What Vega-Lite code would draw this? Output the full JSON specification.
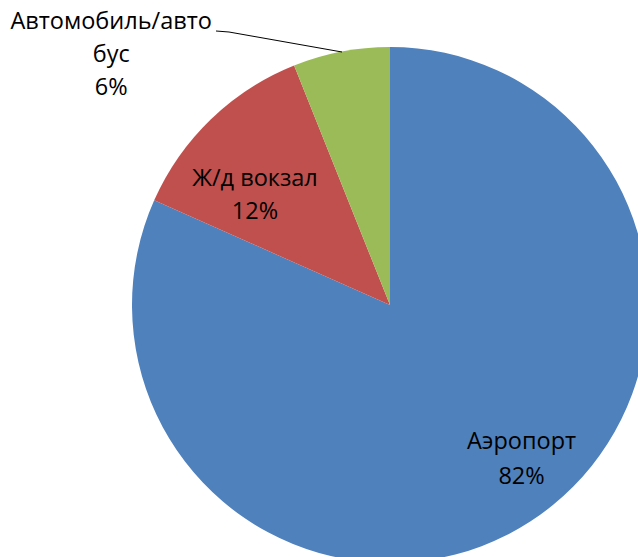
{
  "$schema": "https://vega.github.io/schema/vega-lite/v6.json",
  "width": 780,
  "height": 610,
  "autosize": {"type": "none"},
  "padding": 0,
  "background": "white",
  "config": {"view": {"stroke": null}, "text": {"font": "Open Sans"}},
  "data": {
    "values": [
      {"i": 1, "name": "Аэропорт", "value": 81.65, "label": "Аэропорт\n82%"},
      {"i": 2, "name": "Ж/д вокзал", "value": 12.29, "label": "Ж/д вокзал\n12%"},
      {"i": 3, "name": "Автомобиль/автобус", "value": 6.06, "label": "Автомобиль/авто\nбус\n6%"}
    ]
  },
  "encoding": {
    "theta": {"field": "value", "type": "quantitative", "stack": true},
    "order": {"field": "i", "type": "quantitative"}
  },
  "layer": [
    {
      "mark": {"type": "arc", "outerRadius": 258},
      "encoding": {
        "color": {
          "field": "name",
          "type": "nominal",
          "scale": {"domain": ["Аэропорт", "Ж/д вокзал", "Автомобиль/автобус"], "range": ["#4F81BD", "#C0504D", "#9BBB59"]},
          "legend": null
        }
      }
    },
    {
      "mark": {"type": "text", "fontSize": 23.5, "lineBreak": "\n", "lineHeight": 35, "baseline": "middle", "align": "center", "color": "black", "dx": 28, "dy": -22},
      "encoding": {"text": {"condition": {"test": "datum.i == 1", "field": "label"}, "value": ""}, "radius": {"value": 190}}
    },
    {
      "mark": {"type": "text", "fontSize": 23.5, "lineBreak": "\n", "lineHeight": 33, "baseline": "middle", "align": "center", "color": "black", "dx": -24, "dy": -11},
      "encoding": {"text": {"condition": {"test": "datum.i == 2", "field": "label"}, "value": ""}, "radius": {"value": 160}}
    },
    {
      "mark": {"type": "text", "fontSize": 23.5, "lineBreak": "\n", "lineHeight": 33, "baseline": "middle", "align": "center", "color": "black", "dx": -230, "dy": -30},
      "encoding": {"text": {"condition": {"test": "datum.i == 3", "field": "label"}, "value": ""}, "radius": {"value": 258}}
    },
    {
      "transform": [{"filter": "datum.i == 3"}],
      "mark": {"type": "rule", "color": "black", "strokeWidth": 1},
      "encoding": {"x": {"value": 216}, "y": {"value": 31}, "x2": {"value": 229}, "y2": {"value": 32}, "theta": null, "order": null}
    },
    {
      "transform": [{"filter": "datum.i == 3"}],
      "mark": {"type": "rule", "color": "black", "strokeWidth": 1},
      "encoding": {"x": {"value": 229}, "y": {"value": 32}, "x2": {"value": 342}, "y2": {"value": 52}, "theta": null, "order": null}
    }
  ]
}
